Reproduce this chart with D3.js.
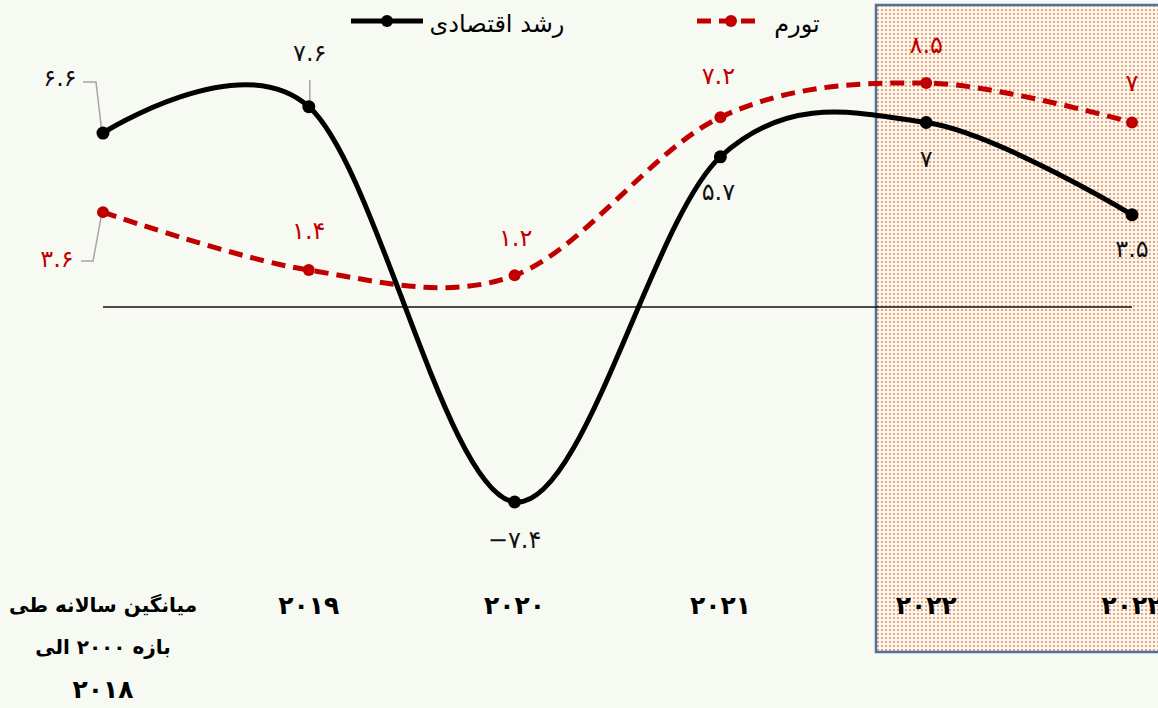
<!DOCTYPE html>
<html>
<head>
<meta charset="utf-8">
<script src="https://cdn.jsdelivr.net/npm/d3@7"></script>
<style>
  html, body { margin: 0; padding: 0; background: #f7f9f3; overflow: hidden; }
  svg { display: block; font-family: "DejaVu Sans", sans-serif; }
</style>
</head>
<body>
<div id="chart"></div>
<script>
// categories (first one is the 2000-2018 average)
const categories = ["avg", "2019", "2020", "2021", "2022a", "2022b"];
const categoryLabels = [
    ["میانگین سالانه طی", "بازه ۲۰۰۰ الی", "۲۰۱۸"],
    ["۲۰۱۹"], ["۲۰۲۰"], ["۲۰۲۱"], ["۲۰۲۲"], ["۲۰۲۲"]
];

// series values
const growthValues = [6.6, 7.6, -7.4, 5.7, 7, 3.5];
const inflationValues = [3.6, 1.4, 1.2, 7.2, 8.5, 7];

// value labels as printed (Persian digits)
const growthLabels = ["۶.۶", "۷.۶", "−۷.۴", "۵.۷", "۷", "۳.۵"];
const inflationLabels = ["۳.۶", "۱.۴", "۱.۲", "۷.۲", "۸.۵", "۷"];

// label offsets from the point
const growthLabelOffset = [[-43, -55], [1, -54], [0, 38], [-2, 35], [0, 36], [0, 34]];
const inflationLabelOffset = [[-46, 46], [0, -40], [1, -38], [-2, -42], [0, -38], [0, -40]];

const width = 1158, height = 708;

const svg = d3.select("#chart").append("svg")
    .attr("width", width)
    .attr("height", height);

svg.append("rect")
    .attr("width", width).attr("height", height)
    .attr("fill", "#f7f9f3");

// dotted fill pattern for the highlighted region
const defs = svg.append("defs");
const pattern = defs.append("pattern")
    .attr("id", "dots")
    .attr("patternUnits", "userSpaceOnUse")
    .attr("width", 4).attr("height", 4);
pattern.append("rect").attr("width", 4).attr("height", 4).attr("fill", "#f8f7f0");
pattern.append("rect").attr("x", 1).attr("y", 1).attr("width", 2).attr("height", 2).attr("fill", "#f2a278");

const x = d3.scalePoint()
    .domain(categories)
    .range([103, 1132]);

const y = d3.scaleLinear()
    .domain([-7.4, 8.5])
    .range([502, 83]);

// highlighted region (last two columns)
svg.append("rect")
    .attr("x", 876).attr("y", 5)
    .attr("width", 300).attr("height", 647)
    .attr("fill", "url(#dots)")
    .attr("stroke", "#4f729c")
    .attr("stroke-width", 2.5);

// zero line
svg.append("line")
    .attr("x1", x(categories[0])).attr("x2", x(categories[categories.length - 1]))
    .attr("y1", y(0)).attr("y2", y(0))
    .attr("stroke", "#111")
    .attr("stroke-width", 1.5);

const line = d3.line()
    .x((d, i) => x(categories[i]))
    .y(d => y(d))
    .curve(d3.curveCardinal.tension(0));

// leader lines
const leader = svg.append("g")
    .attr("fill", "none")
    .attr("stroke", "#a6a6a6")
    .attr("stroke-width", 1.5);
leader.append("polyline")
    .attr("points", [[83, 82], [96, 82], [x(categories[0]) - 1, y(growthValues[0])]].join(" "));
leader.append("polyline")
    .attr("points", [[81, 261], [93, 261], [x(categories[0]) - 1, y(inflationValues[0])]].join(" "));
leader.append("line")
    .attr("x1", x(categories[1]) + 1).attr("x2", x(categories[1]) + 1)
    .attr("y1", 80).attr("y2", y(growthValues[1]));

// inflation line (red dashed)
svg.append("path")
    .datum(inflationValues)
    .attr("d", line)
    .attr("fill", "none")
    .attr("stroke", "#c00000")
    .attr("stroke-width", 5)
    .attr("stroke-dasharray", "14,8");

svg.append("g").selectAll("circle")
    .data(inflationValues)
    .enter().append("circle")
    .attr("cx", (d, i) => x(categories[i]))
    .attr("cy", d => y(d))
    .attr("r", 6)
    .attr("fill", "#c00000");

// growth line (black)
svg.append("path")
    .datum(growthValues)
    .attr("d", line)
    .attr("fill", "none")
    .attr("stroke", "#000")
    .attr("stroke-width", 5);

svg.append("g").selectAll("circle")
    .data(growthValues)
    .enter().append("circle")
    .attr("cx", (d, i) => x(categories[i]))
    .attr("cy", d => y(d))
    .attr("r", 6.5)
    .attr("fill", "#000");

// value labels
svg.append("g").selectAll("text")
    .data(growthValues)
    .enter().append("text")
    .attr("x", (d, i) => x(categories[i]) + growthLabelOffset[i][0])
    .attr("y", (d, i) => y(d) + growthLabelOffset[i][1])
    .attr("dy", "0.35em")
    .attr("text-anchor", "middle")
    .attr("direction", "ltr")
    .style("font-size", "24px")
    .style("fill", "#111")
    .text((d, i) => growthLabels[i]);

svg.append("g").selectAll("text")
    .data(inflationValues)
    .enter().append("text")
    .attr("x", (d, i) => x(categories[i]) + inflationLabelOffset[i][0])
    .attr("y", (d, i) => y(d) + inflationLabelOffset[i][1])
    .attr("dy", "0.35em")
    .attr("text-anchor", "middle")
    .attr("direction", "ltr")
    .style("font-size", "24px")
    .style("fill", "#c00000")
    .text((d, i) => inflationLabels[i]);

// category labels
const axisG = svg.append("g")
    .style("font-weight", "bold")
    .style("fill", "#000");
categories.forEach((c, i) => {
    categoryLabels[i].forEach((s, j) => {
        axisG.append("text")
            .attr("x", x(c))
            .attr("y", 605 + j * 42)
            .attr("dy", "0.35em")
            .attr("text-anchor", "middle")
            .style("font-size", /^[۰-۹]+$/.test(s) ? "25px" : "20px")
            .text(s);
    });
});

// legend
const legend = svg.append("g").attr("transform", "translate(0, 21)");

legend.append("line")
    .attr("x1", 351).attr("x2", 423).attr("y1", 0).attr("y2", 0)
    .attr("stroke", "#000").attr("stroke-width", 5);
legend.append("circle")
    .attr("cx", 387).attr("cy", 0).attr("r", 6).attr("fill", "#000");
legend.append("text")
    .attr("x", 497).attr("y", 11)
    .attr("text-anchor", "middle")
    .style("font-size", "24px")
    .text("رشد اقتصادی");

legend.append("line")
    .attr("x1", 697).attr("x2", 763).attr("y1", 0).attr("y2", 0)
    .attr("stroke", "#c00000").attr("stroke-width", 5)
    .attr("stroke-dasharray", "14,8");
legend.append("circle")
    .attr("cx", 731).attr("cy", 0).attr("r", 6).attr("fill", "#c00000");
legend.append("text")
    .attr("x", 797).attr("y", 11)
    .attr("text-anchor", "middle")
    .style("font-size", "24px")
    .text("تورم");
</script>
</body>
</html>
